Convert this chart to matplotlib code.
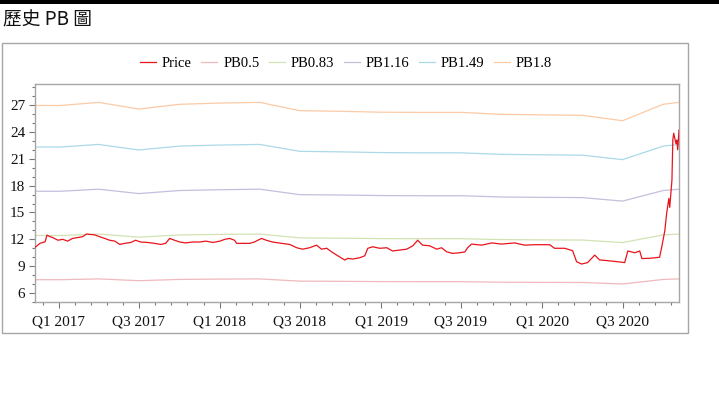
import matplotlib
matplotlib.use('Agg')
import matplotlib.pyplot as plt
import matplotlib.dates as mdates
import numpy as np
import pandas as pd
from matplotlib.patches import Rectangle

# ---------------- data ----------------
price_dates = [
    "2016-11-08", "2016-11-10", "2016-11-19", "2016-12-01", "2016-12-05", "2016-12-12",
    "2016-12-18", "2016-12-30", "2017-01-10", "2017-01-21", "2017-02-01", "2017-02-13",
    "2017-02-24", "2017-03-05", "2017-03-12", "2017-03-23", "2017-04-03", "2017-04-15",
    "2017-04-26", "2017-05-08", "2017-05-19", "2017-05-30", "2017-06-13", "2017-06-24",
    "2017-07-05", "2017-07-21", "2017-08-06", "2017-08-20", "2017-08-31", "2017-09-09",
    "2017-09-20", "2017-10-02", "2017-10-15", "2017-10-31", "2017-11-16", "2017-11-30",
    "2017-12-16", "2018-01-01", "2018-01-12", "2018-01-23", "2018-02-03", "2018-02-08",
    "2018-02-21", "2018-03-09", "2018-03-20", "2018-04-05", "2018-04-16", "2018-04-30",
    "2018-05-21", "2018-06-08", "2018-06-24", "2018-07-07", "2018-07-23", "2018-08-08",
    "2018-08-19", "2018-08-31", "2018-09-11", "2018-09-25", "2018-10-11", "2018-10-17",
    "2018-10-29", "2018-11-14", "2018-11-25", "2018-12-02", "2018-12-13", "2018-12-29",
    "2019-01-14", "2019-01-27", "2019-02-12", "2019-02-28", "2019-03-14", "2019-03-25",
    "2019-04-05", "2019-04-21", "2019-05-07", "2019-05-18", "2019-05-30", "2019-06-12",
    "2019-06-28", "2019-07-10", "2019-07-16", "2019-07-25", "2019-08-17", "2019-09-09",
    "2019-10-01", "2019-10-31", "2019-11-22", "2019-12-15", "2020-01-18", "2020-01-29",
    "2020-02-21", "2020-03-10", "2020-03-19", "2020-03-30", "2020-04-13", "2020-04-29",
    "2020-05-10", "2020-05-28", "2020-06-20", "2020-07-06", "2020-07-13", "2020-07-29",
    "2020-08-09", "2020-08-14", "2020-09-05", "2020-09-23", "2020-09-28", "2020-10-05",
    "2020-10-09", "2020-10-14", "2020-10-16", "2020-10-21", "2020-10-23", "2020-10-25",
    "2020-10-30", "2020-11-01", "2020-11-03", "2020-11-06",
]
price_values = [
    11.10, 11.17, 11.55, 11.73, 12.47, 12.30,
    12.20, 11.90, 12.00, 11.80, 12.10, 12.20,
    12.30, 12.60, 12.55, 12.50, 12.30, 12.10,
    11.90, 11.80, 11.43, 11.55, 11.65, 11.90,
    11.70, 11.65, 11.55, 11.43, 11.55, 12.10,
    11.90, 11.70, 11.60, 11.70, 11.70, 11.80,
    11.65, 11.80, 12.00, 12.10, 11.90, 11.55,
    11.55, 11.55, 11.70, 12.10, 11.90, 11.70,
    11.55, 11.43, 11.06, 10.90, 11.06, 11.35,
    10.90, 11.00, 10.60, 10.16, 9.68, 9.87,
    9.80, 9.95, 10.16, 11.00, 11.17, 11.00,
    11.06, 10.70, 10.80, 10.90, 11.28, 11.90,
    11.35, 11.28, 10.90, 11.06, 10.60, 10.43,
    10.50, 10.60, 11.06, 11.47, 11.35, 11.60,
    11.47, 11.60, 11.35, 11.40, 11.40, 11.00,
    11.00, 10.73, 9.50, 9.24, 9.40, 10.24,
    9.70, 9.62, 9.50, 9.40, 10.70, 10.50,
    10.70, 9.85, 9.90, 10.00, 11.17, 13.00,
    14.90, 16.57, 15.57, 18.60, 23.10, 23.85,
    22.70, 23.10, 22.00, 24.20,
]

band_dates = [
    "2016-11-08", "2017-01-05", "2017-04-01", "2017-07-01", "2017-10-01", "2018-01-01",
    "2018-04-01", "2018-07-01", "2018-10-01", "2019-01-01", "2019-04-01", "2019-07-01",
    "2019-10-01", "2020-01-01", "2020-04-01", "2020-07-01", "2020-10-01", "2020-11-06",
]
pb05 = [7.49, 7.49, 7.58, 7.38, 7.52, 7.56, 7.58, 7.33, 7.31, 7.28, 7.27, 7.27,
        7.21, 7.19, 7.18, 7.01, 7.52, 7.58]
pb083 = [12.43, 12.43, 12.59, 12.24, 12.49, 12.55, 12.59, 12.16, 12.13, 12.08, 12.07, 12.07,
         11.97, 11.94, 11.92, 11.64, 12.49, 12.59]
pb116 = [17.37, 17.37, 17.60, 17.11, 17.45, 17.54, 17.60, 16.99, 16.95, 16.89, 16.87, 16.87,
         16.73, 16.69, 16.66, 16.27, 17.45, 17.60]
pb149 = [22.31, 22.31, 22.60, 21.98, 22.41, 22.53, 22.60, 21.83, 21.77, 21.69, 21.66, 21.66,
         21.49, 21.44, 21.40, 20.90, 22.41, 22.60]
pb18 = [26.95, 26.95, 27.30, 26.55, 27.08, 27.22, 27.30, 26.37, 26.30, 26.20, 26.18, 26.18,
        25.96, 25.90, 25.85, 25.25, 27.08, 27.30]

band_labels = ["PB0.5", "PB0.83", "PB1.16", "PB1.49", "PB1.8"]
band_series = [pb05, pb083, pb116, pb149, pb18]
band_colors = ["#f0b9bd", "#d2e2b4", "#c6bedd", "#abd9e6", "#fbcaa6"]
price_color = "#e8141c"

tick_dates = ["2017-01-01", "2017-07-01", "2018-01-01", "2018-07-01",
              "2019-01-01", "2019-07-01", "2020-01-01", "2020-07-01"]
tick_labels = ["Q1 2017", "Q3 2017", "Q1 2018", "Q3 2018",
               "Q1 2019", "Q3 2019", "Q1 2020", "Q3 2020"]
y_ticks = [6, 9, 12, 15, 18, 21, 24, 27]

# ---------------- figure ----------------
W, H = 719, 398
fig = plt.figure(figsize=(W / 100, H / 100), dpi=100)
fig.patch.set_facecolor("white")

# top black bar
fig.patches.append(Rectangle((0, 1 - 3.5 / H), 1, 3.5 / H, transform=fig.transFigure,
                             facecolor="black", edgecolor="none"))
# outer chart box
fig.patches.append(Rectangle((2 / W, (H - 333) / H), 686 / W, 290 / H, transform=fig.transFigure,
                             fill=False, edgecolor="#a6a6a6", lw=1.0))

fig.text(3 / W, 1 - 20 / H, "歷史 PB 圖", family=["Noto Sans CJK TC", "DejaVu Sans"],
         fontsize=13.5, ha="left", va="center", color="#111111")

ax = fig.add_axes([35 / W, (H - 302) / H, 644 / W, 218 / H])

serif = ["Liberation Serif", "DejaVu Serif"]

pdates = pd.to_datetime(price_dates)
bdates = pd.to_datetime(band_dates)

handles = []
for lab, vals, col in zip(band_labels, band_series, band_colors):
    h, = ax.plot(bdates, vals, color=col, lw=0.9, label=lab, zorder=2)
    handles.append(h)
hp, = ax.plot(pdates, price_values, color=price_color, lw=0.9, label="Price", zorder=3)
handles = [hp] + handles

# ticks
tnum = mdates.date2num(pd.to_datetime(tick_dates))
ax.set_xticks(tnum)
ax.set_xticklabels(tick_labels, family=serif, fontsize=11)
step = np.diff(tnum).mean()
minor = []
ext = np.concatenate([[tnum[0] - step], tnum, [tnum[-1] + step]])
for a, b in zip(ext[:-1], ext[1:]):
    minor.extend(np.linspace(a, b, 6)[1:-1])
ax.set_xticks(minor, minor=True)

ax.set_yticks(y_ticks)
ax.set_yticklabels([str(v) for v in y_ticks], family=serif, fontsize=11)
ax.set_yticks(np.arange(5, 30, 1), minor=True)

ax.set_xlim(mdates.date2num(pd.Timestamp("2016-11-08")), mdates.date2num(pd.Timestamp("2020-11-06")))
ax.set_ylim(5.0, 29.35)

ax.tick_params(which="major", length=4, width=0.8, color="#777777", pad=3, labelcolor="#111111")
ax.tick_params(which="minor", length=2, width=0.8, color="#777777")
ax.tick_params(axis="x", pad=6)

for s in ax.spines.values():
    s.set_color("#a6a6a6")
    s.set_linewidth(1.0)

fig.legend(handles=handles, labels=[h.get_label() for h in handles],
           loc="center", bbox_to_anchor=(346 / W, 1 - 63 / H), ncol=6, frameon=False,
           prop={"family": serif, "size": 10.5}, handlelength=1.1, handletextpad=0.4,
           columnspacing=0.65)

fig.savefig("out.png", dpi=100, facecolor="white")
